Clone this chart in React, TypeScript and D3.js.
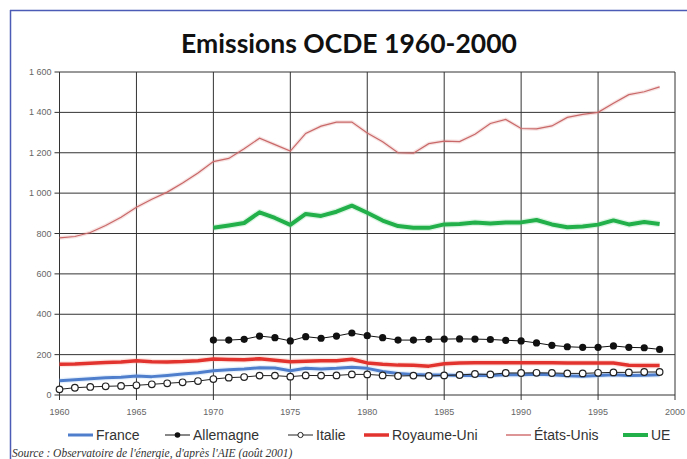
import React from "react";
import * as d3 from "d3";

const years = d3.range(1960, 2000);
const years70 = d3.range(1970, 2000);

const france = [71, 76, 80, 85, 88, 94, 91, 97, 104, 110, 120, 125, 129, 135, 134, 120, 132, 129, 132, 137, 132, 116, 107, 102, 99, 99, 97, 98, 97, 100, 100, 103, 100, 95, 93, 96, 100, 97, 98, 100];
const italie = [28, 36, 40, 43, 45, 48, 53, 58, 63, 69, 79, 86, 89, 96, 96, 91, 97, 96, 97, 102, 102, 97, 94, 96, 94, 97, 99, 104, 102, 109, 109, 110, 109, 107, 107, 110, 112, 112, 114, 114];
const royaumeUni = [152, 153, 157, 161, 163, 170, 165, 164, 166, 170, 178, 176, 175, 180, 172, 165, 167, 170, 170, 177, 159, 152, 148, 147, 143, 155, 158, 160, 160, 160, 160, 160, 160, 159, 159, 159, 158, 147, 146, 146];
const etatsUnis = [778, 785, 805, 840, 880, 930, 970, 1005, 1050, 1100, 1156, 1172, 1220, 1272, 1240, 1208, 1296, 1332, 1352, 1352, 1298, 1255, 1200, 1198, 1245, 1258, 1255, 1292, 1345, 1365, 1320, 1318, 1333, 1375, 1390, 1400, 1445, 1488, 1502, 1526];
const allemagne = [272, 272, 276, 292, 284, 268, 289, 281, 292, 307, 294, 284, 272, 272, 276, 277, 278, 277, 275, 271, 268, 258, 246, 239, 236, 236, 243, 236, 234, 226];
const ue = [829, 840, 852, 905, 877, 843, 897, 887, 908, 938, 903, 864, 837, 829, 828, 845, 847, 855, 849, 855, 855, 867, 845, 831, 835, 844, 865, 845, 857, 847];

const yTicks = [0, 200, 400, 600, 800, 1000, 1200, 1400, 1600];
const xTicks = [1960, 1965, 1970, 1975, 1980, 1985, 1990, 1995, 2000];

const legendItems = [
  { name: "France", color: "#4f7fcc", width: 3, marker: "none", x: 68 },
  { name: "Allemagne", color: "#111", width: 1, marker: "filled", x: 165 },
  { name: "Italie", color: "#222", width: 1, marker: "open", x: 288 },
  { name: "Royaume-Uni", color: "#e2332e", width: 3.5, marker: "none", x: 364 },
  { name: "États-Unis", color: "#d37272", width: 1.5, marker: "none", x: 506 },
  { name: "UE", color: "#22b04a", width: 4, marker: "none", x: 623 },
];

const fmt = (v: number) => (v >= 1000 ? `${Math.floor(v / 1000)} ${String(v % 1000).padStart(3, "0")}` : String(v));

export default function App() {
  const x = d3.scaleLinear().domain([1960, 2000]).range([59.5, 675]);
  const y = d3.scaleLinear().domain([0, 1600]).range([395, 72]);

  const line = (xs: number[], vs: number[]) =>
    d3.line<number>().x((_, i) => x(xs[i])).y((v) => y(v))(vs) as string;

  const glow = (d: string, color: string, w: number) => (
    <path d={d} fill="none" stroke={color} strokeOpacity={0.25} strokeWidth={w + 2.5} strokeLinejoin="round" />
  );

  return (
    <svg
      width={687}
      height={459}
      style={{ position: "absolute", left: 0, top: 0, background: "#fff" }}
      fontFamily="Arial, 'Liberation Sans', sans-serif"
    >
      {/* outer frame */}
      <line x1={10} y1={10.5} x2={687} y2={10.5} stroke="#4c5bb5" strokeWidth={1.5} />
      <line x1={10.5} y1={10} x2={10.5} y2={459} stroke="#4c5bb5" strokeWidth={1.5} />

      <text x={349} y={53} textAnchor="middle" fontFamily="Lato, sans-serif" fontWeight={700} fontSize={26.5} fill="#111">
        Emissions OCDE 1960-2000
      </text>

      {/* grid */}
      {yTicks.map((t) => (
        <g key={`y${t}`}>
          <line x1={x(1960) - 5} x2={x(2000)} y1={y(t)} y2={y(t)} stroke="#333" strokeWidth={1} />
          <text x={x(1960) - 8} y={y(t) + 3} textAnchor="end" fontSize={9} fill="#666">
            {fmt(t)}
          </text>
        </g>
      ))}
      {xTicks.map((t) => (
        <g key={`x${t}`}>
          <line x1={x(t)} x2={x(t)} y1={y(1600)} y2={y(0) + 5} stroke="#333" strokeWidth={1} />
          <text x={x(t)} y={y(0) + 20} textAnchor="middle" fontSize={9} fill="#666">
            {t}
          </text>
        </g>
      ))}

      {/* series */}
      {glow(line(years, etatsUnis), "#e08a8a", 1.2)}
      <path d={line(years, etatsUnis)} fill="none" stroke="#c96868" strokeWidth={1.2} />
      {glow(line(years70, ue), "#6fd38a", 4)}
      <path d={line(years70, ue)} fill="none" stroke="#22b04a" strokeWidth={4} strokeLinejoin="round" />
      {glow(line(years, royaumeUni), "#f39a8a", 3.5)}
      <path d={line(years, royaumeUni)} fill="none" stroke="#e2332e" strokeWidth={3.5} strokeLinejoin="round" />
      {glow(line(years, france), "#9cc3ee", 3)}
      <path d={line(years, france)} fill="none" stroke="#4f7fcc" strokeWidth={3} strokeLinejoin="round" />

      <path d={line(years70, allemagne)} fill="none" stroke="#111" strokeWidth={1} />
      {allemagne.map((v, i) => (
        <circle key={`a${i}`} cx={x(years70[i])} cy={y(v)} r={3.6} fill="#111" />
      ))}

      <path d={line(years, italie)} fill="none" stroke="#222" strokeWidth={1} />
      {italie.map((v, i) => (
        <circle key={`i${i}`} cx={x(years[i])} cy={y(v)} r={3.3} fill="#fff" stroke="#222" strokeWidth={1.2} />
      ))}

      {/* legend */}
      {legendItems.map((it) => (
        <g key={it.name} transform={`translate(${it.x},435)`}>
          <line x1={0} x2={25} y1={0} y2={0} stroke={it.color} strokeWidth={it.width} />
          {it.marker === "filled" && <circle cx={12.5} cy={0} r={2.8} fill="#111" />}
          {it.marker === "open" && <circle cx={12.5} cy={0} r={2.6} fill="#fff" stroke="#222" strokeWidth={1} />}
          <text x={28} y={5} fontSize={14} fill="#333">
            {it.name}
          </text>
        </g>
      ))}

      <text x={12} y={457} fontFamily="'Liberation Serif', serif" fontStyle="italic" fontSize={11.5} fill="#333">
        Source : Observatoire de l'énergie, d'après l'AIE (août 2001)
      </text>
    </svg>
  );
}
